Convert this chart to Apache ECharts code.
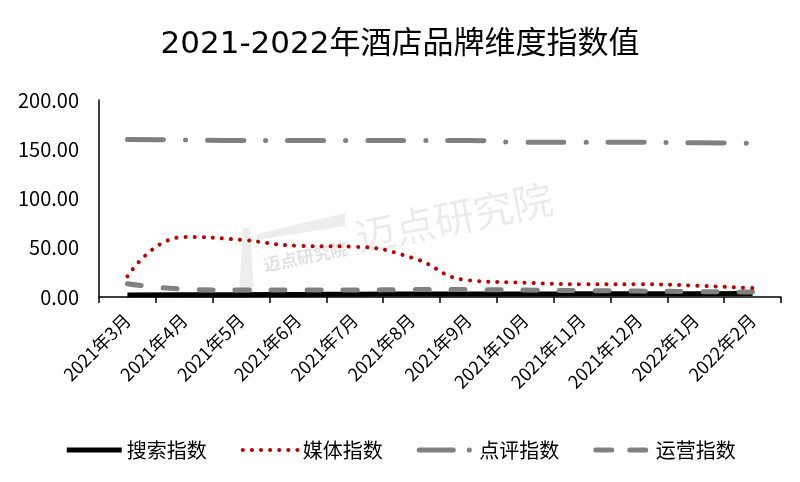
<!DOCTYPE html>
<html><head><meta charset="utf-8">
<script src="https://cdn.jsdelivr.net/npm/echarts@6/dist/echarts.min.js"></script>
<style>html,body{margin:0;padding:0;background:#fff}#c{width:800px;height:482px}</style>
</head><body><div id="c"></div>
<script>
var categories = ['2021年3月','2021年4月','2021年5月','2021年6月','2021年7月','2021年8月','2021年9月','2021年10月','2021年11月','2021年12月','2022年1月','2022年2月'];
var searchIdx = [2.0, 2.2, 2.4, 2.6, 2.8, 3.0, 3.0, 3.1, 3.2, 3.3, 3.4, 3.5];
var mediaIdx = [21, 61, 58, 52, 51, 40, 17, 14.5, 13, 13, 11.5, 9];
var reviewIdx = [160, 159.5, 159, 159, 159, 159, 159, 157, 157, 157, 156.5, 156];
var opsIdx = [13.5, 8, 7, 7, 7, 7.5, 7.5, 7, 6.5, 6, 5.5, 5];
var yTicks = [0, 50, 100, 150, 200];

var font = '"Noto Sans CJK SC", "Noto Sans", sans-serif';
var titleFont = '"DejaVu Sans", "Noto Sans CJK SC", sans-serif';
var dashOps = [14, 22], dashReview = [36, 22, 0.1, 22], dotMedia = [0.1, 9];
var chart = echarts.init(document.getElementById('c'));
chart.setOption({
  animation: false,
  title: { text: '2021-2022年酒店品牌维度指数值', left: 'center', top: 24,
    textStyle: { fontFamily: titleFont, fontSize: 31, fontWeight: 'normal', color: '#000' } },
  graphic: [
    { type: 'polygon', silent: true, z: 0,
      shape: { points: [[257, 234], [345, 213], [345, 226], [257, 240]] },
      style: { fill: 'rgba(0,0,0,0.07)' } },
    { type: 'polygon', silent: true, z: 0,
      shape: { points: [[243, 228], [250, 228], [254, 293], [239, 293]] },
      style: { fill: 'rgba(0,0,0,0.07)' } },
    { type: 'text', left: 352, top: 178, rotation: 0.2, z: 0,
      style: { text: '迈点研究院', font: '40px ' + font, fill: 'rgba(0,0,0,0.08)' } },
    { type: 'text', left: 262, top: 240, rotation: 0.2, z: 0,
      style: { text: '迈点研究院', font: 'bold 17px ' + font, fill: 'rgba(0,0,0,0.12)' } }
  ],
  legend: { bottom: 17, left: 'center', itemWidth: 55, itemHeight: 12, itemGap: 34,
    itemStyle: { opacity: 0 },
    textStyle: { fontFamily: font, fontSize: 20, color: '#000' },
    data: [
      { name: '搜索指数', lineStyle: { width: 5, color: '#000' } },
      { name: '媒体指数', lineStyle: { width: 4, color: '#c00000', type: dotMedia, cap: 'round' } },
      { name: '点评指数', lineStyle: { width: 5, color: '#808080', type: [34, 16, 0.1, 20], cap: 'round' } },
      { name: '运营指数', lineStyle: { width: 5, color: '#808080', type: [16, 18], cap: 'round' } }
    ] },
  grid: { left: 99, right: 19, top: 100, bottom: 185 },
  xAxis: { type: 'category', data: categories, boundaryGap: true,
    axisLine: { lineStyle: { color: '#000', width: 1.5 } },
    axisTick: { show: true, length: 6, lineStyle: { color: '#000', width: 1.5 } },
    axisLabel: { rotate: 45, fontFamily: font, fontSize: 18, color: '#000', margin: 20, interval: 0 } },
  yAxis: { type: 'value', min: yTicks[0], max: yTicks[yTicks.length - 1], interval: 50,
    axisLine: { show: true, lineStyle: { color: '#000', width: 1.5 } },
    axisTick: { show: false }, splitLine: { show: false },
    axisLabel: { fontFamily: font, fontSize: 20, color: '#000', margin: 20,
      formatter: function (v) { return v.toFixed(2); } } },
  series: [
    { name: '搜索指数', type: 'line', data: searchIdx, symbol: 'none', smooth: true, z: 2,
      lineStyle: { color: '#000', width: 5 }, itemStyle: { color: '#000' } },
    { name: '运营指数', type: 'line', data: opsIdx, symbol: 'none', smooth: true, z: 3,
      lineStyle: { color: '#808080', width: 5, type: dashOps, cap: 'round' }, itemStyle: { color: '#808080' } },
    { name: '媒体指数', type: 'line', data: mediaIdx, symbol: 'none', smooth: true, z: 4,
      lineStyle: { color: '#c00000', width: 4, type: dotMedia, cap: 'round' }, itemStyle: { color: '#c00000' } },
    { name: '点评指数', type: 'line', data: reviewIdx, symbol: 'none', smooth: true, z: 3,
      lineStyle: { color: '#808080', width: 5, type: dashReview, cap: 'round' }, itemStyle: { color: '#808080' } }
  ]
});
</script></body></html>
